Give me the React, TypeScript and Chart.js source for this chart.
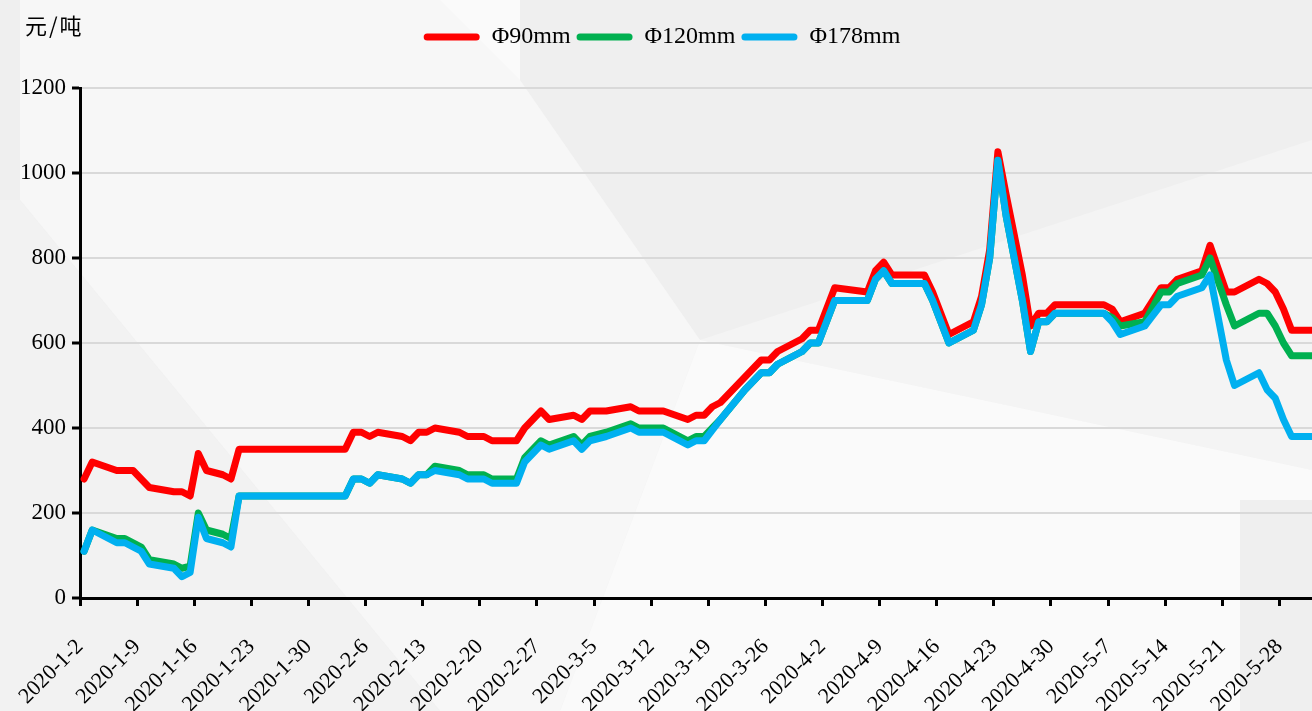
import React, { useEffect, useRef } from 'react';
import { Chart, registerables } from 'chart.js';

Chart.register(...registerables);

// ---- data ----
const dates = [
  '2020-1-2', '2020-1-3', '2020-1-6', '2020-1-7', '2020-1-8', '2020-1-9', '2020-1-10',
  '2020-1-13', '2020-1-14', '2020-1-15', '2020-1-16', '2020-1-17', '2020-1-19', '2020-1-20', '2020-1-21',
  '2020-2-3', '2020-2-4', '2020-2-5', '2020-2-6', '2020-2-7',
  '2020-2-10', '2020-2-11', '2020-2-12', '2020-2-13', '2020-2-14',
  '2020-2-17', '2020-2-18', '2020-2-20', '2020-2-21',
  '2020-2-24', '2020-2-25', '2020-2-26', '2020-2-27', '2020-2-28',
  '2020-3-2', '2020-3-3', '2020-3-4', '2020-3-6',
  '2020-3-9', '2020-3-10', '2020-3-13',
  '2020-3-16', '2020-3-17', '2020-3-18', '2020-3-19', '2020-3-20',
  '2020-3-23', '2020-3-24', '2020-3-25', '2020-3-26', '2020-3-27',
  '2020-3-30', '2020-3-31', '2020-4-1', '2020-4-3',
  '2020-4-7', '2020-4-8', '2020-4-9', '2020-4-10',
  '2020-4-14', '2020-4-15', '2020-4-16', '2020-4-17',
  '2020-4-20', '2020-4-21', '2020-4-22', '2020-4-23', '2020-4-24', '2020-4-26',
  '2020-4-27', '2020-4-28', '2020-4-29', '2020-4-30',
  '2020-5-6', '2020-5-7', '2020-5-8',
  '2020-5-11', '2020-5-12', '2020-5-13', '2020-5-14', '2020-5-15',
  '2020-5-18', '2020-5-19', '2020-5-20', '2020-5-21', '2020-5-22',
  '2020-5-25', '2020-5-26', '2020-5-27', '2020-5-28', '2020-5-29', '2020-6-1',
];

const phi90 = [
  280, 320, 300, 300, 300, 280, 260,
  250, 250, 240, 340, 300, 290, 280, 350,
  350, 390, 390, 380, 390,
  380, 370, 390, 390, 400,
  390, 380, 380, 370,
  370, 400, 420, 440, 420,
  430, 420, 440, 440,
  450, 440, 440,
  420, 430, 430, 450, 460,
  520, 540, 560, 560, 580,
  610, 630, 630, 730,
  720, 770, 790, 760,
  760, 720, 670, 620,
  650, 710, 820, 1050, 950, 760,
  640, 670, 670, 690,
  690, 680, 650,
  670, 700, 730, 730, 750,
  770, 830, 775, 720, 720,
  750, 740, 720, 680, 630, 630,
];

const phi120 = [
  110, 160, 140, 140, 130, 120, 90,
  80, 70, 75, 200, 160, 150, 140, 240,
  240, 280, 280, 270, 290,
  280, 270, 290, 290, 310,
  300, 290, 290, 280,
  280, 330, 350, 370, 360,
  380, 360, 380, 390,
  410, 400, 400,
  370, 380, 380, 400, 420,
  490, 510, 530, 530, 550,
  580, 600, 600, 700,
  700, 750, 770, 740,
  740, 700, 650, 600,
  630, 690, 800, 1030, 900, 700,
  580, 650, 650, 670,
  670, 660, 640,
  650, 685, 720, 720, 740,
  760, 800, 745, 690, 640,
  670, 670, 640, 600, 570, 570,
];

const phi178 = [
  110, 160, 130, 130, 120, 110, 80,
  70, 50, 60, 190, 140, 130, 120, 240,
  240, 280, 280, 270, 290,
  280, 270, 290, 290, 300,
  290, 280, 280, 270,
  270, 320, 340, 360, 350,
  370, 350, 370, 380,
  400, 390, 390,
  360, 370, 370, 395, 420,
  490, 510, 530, 530, 550,
  580, 600, 600, 700,
  700, 750, 770, 740,
  740, 700, 650, 600,
  630, 690, 800, 1030, 900, 700,
  580, 650, 650, 670,
  670, 650, 620,
  640, 665, 690, 690, 710,
  730, 760, 660, 560, 500,
  530, 490, 470, 420, 380, 380,
];

const seriesNames = ['Φ90mm', 'Φ120mm', 'Φ178mm'];
const seriesColors = ['#ff0000', '#00b050', '#00b0f0'];
const unitLabel = '元/吨';
const startDate = '2020-1-2';
const endDate = '2020-5-31';
const yMin = 0;
const yMax = 1200;
const yStep = 200;
const xTickEvery = 7;

// ---- helpers ----
function toUTC(s: string) {
  const [y, m, d] = s.split('-').map(Number);
  return Date.UTC(y, m - 1, d);
}
const START = toUTC(startDate);
const DAY = 86400000;
function dayIndex(s: string) {
  return Math.round((toUTC(s) - START) / DAY);
}
function dayLabel(i: number) {
  const dt = new Date(START + i * DAY);
  return `${dt.getUTCFullYear()}-${dt.getUTCMonth() + 1}-${dt.getUTCDate()}`;
}
const lastDay = dayIndex(endDate);

const serif = "'Liberation Serif', 'Times New Roman', serif";

const bgPlugin = {
  id: 'bgShapes',
  beforeDraw(chart: any) {
    const { ctx, width, height } = chart;
    ctx.save();
    ctx.fillStyle = '#efefef';
    ctx.fillRect(0, 0, width, height);
    const poly = (pts: number[][], color: string) => {
      ctx.beginPath();
      pts.forEach(([x, y], i) => (i ? ctx.lineTo(x, y) : ctx.moveTo(x, y)));
      ctx.closePath();
      ctx.fillStyle = color;
      ctx.fill();
    };
    poly([[20, 0], [520, 0], [520, 80], [700, 340], [560, 711], [440, 711], [20, 200]], '#f7f7f7');
    poly([[0, 200], [20, 200], [440, 711], [0, 711]], '#f2f2f2');
    poly([[700, 340], [1312, 140], [1312, 470]], '#f4f4f4');
    poly([[700, 340], [1312, 470], [1312, 500], [1240, 500], [1240, 711], [560, 711]], '#fafafa');
    poly([[440, 0], [520, 0], [520, 80]], '#fafafa');
    ctx.restore();
  },
  afterDraw(chart: any) {
    const { ctx } = chart;
    ctx.save();
    ctx.fillStyle = '#000';
    ctx.font = "22px 'Noto Sans CJK SC', sans-serif";
    try { (ctx as any).letterSpacing = '2px'; } catch (e) { /* ignore */ }
    ctx.textBaseline = 'alphabetic';
    ctx.textAlign = 'left';
    ctx.fillText(unitLabel, 25, 34);
    ctx.restore();
  },
};

const legendSpacer = {
  id: 'legendSpacer',
  beforeInit(chart: any) {
    const legend = chart.legend;
    if (!legend) return;
    const orig = legend.fit;
    legend.fit = function () {
      orig.call(this);
      this.height += 29;
    };
  },
};

export default function App() {
  const ref = useRef<HTMLCanvasElement | null>(null);

  useEffect(() => {
    if (!ref.current) return;
    const xs = dates.map(dayIndex);
    const series = [phi90, phi120, phi178];
    const chart = new Chart(ref.current, {
      type: 'line',
      data: {
        datasets: series.map((vals, i) => ({
          label: seriesNames[i],
          data: vals.map((v, j) => ({ x: xs[j], y: v })),
          borderColor: seriesColors[i],
          backgroundColor: seriesColors[i],
          borderWidth: 7,
          pointRadius: 0,
          tension: 0,
          borderJoinStyle: 'round',
          borderCapStyle: 'round',
          order: 3 - i,
        })),
      },
      options: {
        animation: false,
        responsive: false,
        layout: { padding: { top: 19, left: 12, right: 0, bottom: 0 } },
        plugins: {
          tooltip: { enabled: false },
          legend: {
            position: 'top',
            align: 'center',
            labels: {
              boxWidth: 56,
              boxHeight: 7,
              padding: 6,
              color: '#000',
              font: { family: serif, size: 24 },
              useBorderRadius: true,
              borderRadius: 3.5,
              generateLabels: (c: any) =>
                c.data.datasets.map((ds: any, i: number) => ({
                  text: ds.label,
                  fillStyle: seriesColors[i],
                  strokeStyle: seriesColors[i],
                  lineWidth: 0,
                  hidden: false,
                  datasetIndex: i,
                  borderRadius: 3.5,
                  fontColor: '#000',
                })),
            },
          },
        },
        scales: {
          x: {
            type: 'linear',
            min: -0.5,
            max: lastDay + 0.5,
            afterBuildTicks: (scale: any) => {
              const ticks = [];
              for (let d = 0; d <= lastDay; d += xTickEvery) ticks.push({ value: d - 0.5 });
              scale.ticks = ticks;
            },
            afterFit: (scale: any) => {
              scale.height = 113;
              scale.paddingLeft = 0;
              scale.paddingRight = 0;
            },
            ticks: {
              autoSkip: false,
              minRotation: 45,
              maxRotation: 45,
              padding: 28,
              color: '#000',
              font: { family: serif, size: 22 },
              callback: (v: any) => dayLabel(Math.round(Number(v) + 0.5)),
            },
            grid: {
              drawOnChartArea: false,
              drawTicks: true,
              tickLength: 8,
              tickColor: '#000',
              tickWidth: 3,
            },
            border: { color: '#000', width: 3 },
          },
          y: {
            min: yMin,
            max: yMax,
            afterFit: (scale: any) => {
              scale.width = 68;
            },
            ticks: {
              stepSize: yStep,
              padding: 6,
              color: '#000',
              font: { family: serif, size: 23 },
              callback: (v: any) => String(v),
            },
            grid: {
              color: '#d9d9d9',
              lineWidth: 2,
              drawTicks: true,
              tickLength: 8,
              tickColor: '#000',
              tickWidth: 3,
            },
            border: { color: '#000', width: 3 },
          },
        },
      },
      plugins: [bgPlugin, legendSpacer],
    } as any);
    return () => chart.destroy();
  }, []);

  return (
    <div style={{ position: 'absolute', left: 0, top: 0, width: 1312, height: 711 }}>
      <canvas ref={ref} width={1312} height={711} style={{ display: 'block', width: 1312, height: 711 }} />
    </div>
  );
}
